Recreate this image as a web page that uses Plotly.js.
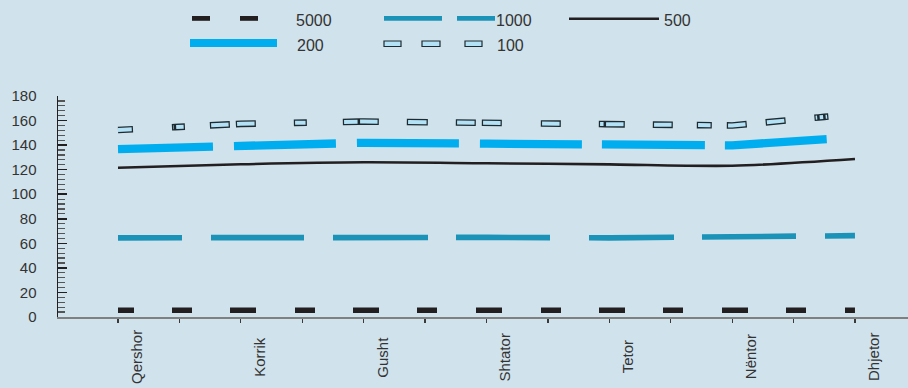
<!DOCTYPE html>
<html>
<head>
<meta charset="utf-8">
<script src="https://cdn.plot.ly/plotly-3.0.1.min.js"></script>
<style>html,body{margin:0;padding:0;background:#d0e2eb;}#chart{width:908px;height:388px;}</style>
</head>
<body>
<div id="chart"></div>
<script>
// ---- data ----
const months = ['Qershor', 'Korrik', 'Gusht', 'Shtator', 'Tetor', 'Nëntor', 'Dhjetor'];
const seriesNames = ['5000', '1000', '500', '200', '100'];
const s5000 = [5.5, 5.5, 5.5, 5.5, 5.5, 5.5, 5.5];
const s1000 = [64.5, 64.7, 65.3, 64.8, 64.5, 64.8, 66.2];
const s500 = [121.6, 124.4, 126.0, 125.2, 124.3, 123.2, 128.7];
const s200 = [136.8, 139.4, 141.9, 141.2, 140.1, 139.8, 146.5];
const s100 = [152.3, 157.3, 159.2, 158.0, 156.8, 156.0, 165.3];
const yTickVals = [0, 20, 40, 60, 80, 100, 120, 140, 160, 180];
const yTickText = ['0', '20', '40', '60', '80', '100', '120', '140', '160', '180'];

// ---- styles (layout constants, pixel dash segments) ----
const BG = '#d0e2eb';
const TXT = '#333333';
const FONT = 'Liberation Sans, Arial, sans-serif';
const M = {l: 58, r: 0, t: 96, b: 71};
const PW = 908 - M.l - M.r, PH = 388 - M.t - M.b;
const X0PX = 118; // pixel where the first month sits
const C = {k: '#231f20', teal: '#1b93b8', cyan: '#00aeef', pale: '#b3e1f5', edge: '#1e2a31'};

const dash5000 = [[114,134],[172,192],[230,256],[295,315],[353,379],[417,437],[476,502],[541,561],[599,625],[663,683],[722,748],[786,806],[845,861]];
const dash1000 = [[113,182],[211,304],[333,428],[456,550],[589,674],[702,796],[825,860]];
const dash200 = [[111,213],[234,336],[357,459],[480,582],[602,705],[725,827]];
const rects100 = [[113,133],[172,175],[175,185],[210,230],[236,256],[294,307],[343,359],[359,379],[407,428],[456,476],[482,502],[541,561],[599,605],[605,625],[653,673],[697,712],[727,747],[766,786],[815,819],[819,825],[825,829]];
const BORDER = 1.25;

function segsToDash(segs, shrink) {
  const arr = [];
  let cursor = X0PX;
  segs.forEach(function (s) {
    let a = Math.max(s[0] + shrink, cursor);
    const b = s[1] - shrink;
    if (b <= a) return;
    if (arr.length === 0) {
      if (a > cursor) { arr.push(0, a - cursor); }
    } else {
      arr.push(a - cursor);
    }
    arr.push(b - a);
    cursor = b;
  });
  arr.push(3000);
  return arr.map(function (v) { return v.toFixed(2) + 'px'; }).join(',');
}

const xIdx = months.map(function (_, i) { return i; });

const traces = [
  {x: xIdx, y: s5000, name: seriesNames[0], mode: 'lines', line: {color: C.k, width: 5.5, dash: segsToDash(dash5000, 0)}},
  {x: xIdx, y: s1000, name: seriesNames[1], mode: 'lines', line: {color: C.teal, width: 5.7, dash: segsToDash(dash1000, 0)}},
  {x: xIdx, y: s500, name: seriesNames[2], mode: 'lines', line: {color: C.k, width: 2.6, shape: 'spline', smoothing: 0.8}},
  {x: xIdx, y: s200, name: seriesNames[3], mode: 'lines', line: {color: C.cyan, width: 8.3, dash: segsToDash(dash200, 0)}},
  {x: xIdx, y: s100, name: seriesNames[4], mode: 'lines', line: {color: C.edge, width: 6.6, dash: segsToDash(rects100, 0)}},
  {x: xIdx, y: s100, name: seriesNames[4], mode: 'lines', showlegend: false, line: {color: C.pale, width: 4.0, dash: segsToDash(rects100, BORDER)}}
];
traces.forEach(function (t) { t.hoverinfo = 'skip'; });

// pixel -> paper helpers for the legend block
function px(xp) { return (xp - M.l) / PW; }
function py(yp) { return (388 - M.b - yp) / PH; }

const shapes = [];
const annotations = [];
function legLine(x1, x2, y, color, width) {
  shapes.push({type: 'line', xref: 'paper', yref: 'paper', x0: px(x1), x1: px(x2), y0: py(y), y1: py(y), line: {color: color, width: width}});
}
function legRect(x1, x2, y1, y2) {
  shapes.push({type: 'rect', xref: 'paper', yref: 'paper', x0: px(x1), x1: px(x2), y0: py(y2), y1: py(y1), fillcolor: C.pale, line: {color: C.edge, width: 1.2}});
}
function legText(i, x, y) {
  annotations.push({xref: 'paper', yref: 'paper', x: px(x), y: py(y), xanchor: 'left', yanchor: 'middle', showarrow: false,
    text: seriesNames[i], font: {family: FONT, size: 16, color: TXT}});
}
// 5000
legLine(192, 210, 18.4, C.k, 4.8); legLine(240, 258, 18.4, C.k, 4.8); legText(0, 294, 20.8);
// 1000
legLine(384, 442, 18.4, C.teal, 4.8); legLine(457, 495, 18.4, C.teal, 4.8); legText(1, 494, 20.8);
// 500
legLine(569, 659, 18.8, C.k, 2.5); legText(2, 662, 20.8);
// 200
legLine(190, 277, 43, C.cyan, 8); legText(3, 295, 45.5);
// 100
legRect(384, 401, 41, 46.5); legRect(422, 440, 41, 46.5); legRect(465, 482, 41, 46.5); legText(4, 495, 45.5);

// month labels, centred and rotated
months.forEach(function (m, i) {
  annotations.push({xref: 'x', yref: 'paper', x: i, y: py(357), xshift: 18, textangle: -90,
    xanchor: 'center', yanchor: 'middle', showarrow: false, text: m, font: {family: FONT, size: 15, color: TXT}});
});

const layout = {
  width: 908, height: 388,
  margin: M,
  paper_bgcolor: BG, plot_bgcolor: BG,
  showlegend: false,
  font: {family: FONT, size: 15, color: TXT},
  xaxis: {
    type: 'linear', range: [-0.4885, 6.4317], fixedrange: true,
    tick0: 0, dtick: 0.5, ticks: 'outside', ticklen: 4, tickwidth: 1.3, tickcolor: '#3a3a3a',
    showticklabels: false, showgrid: false, zeroline: false,
    showline: true, linecolor: '#808080', linewidth: 1.7
  },
  yaxis: {
    range: [0, 180], fixedrange: true,
    tickvals: yTickVals, ticktext: yTickText,
    ticks: 'inside', ticklen: 9, tickwidth: 1.5, tickcolor: C.k,
    minor: {dtick: 4, tick0: 0, ticks: 'inside', ticklen: 7, tickwidth: 1.2, tickcolor: '#555', showgrid: false},
    ticklabelstandoff: 17,
    tickfont: {family: FONT, size: 15, color: TXT},
    showgrid: false, zeroline: false,
    showline: true, linecolor: C.k, linewidth: 1.5
  },
  shapes: shapes,
  annotations: annotations
};

Plotly.newPlot('chart', traces, layout, {staticPlot: true, displayModeBar: false});
</script>
</body>
</html>
